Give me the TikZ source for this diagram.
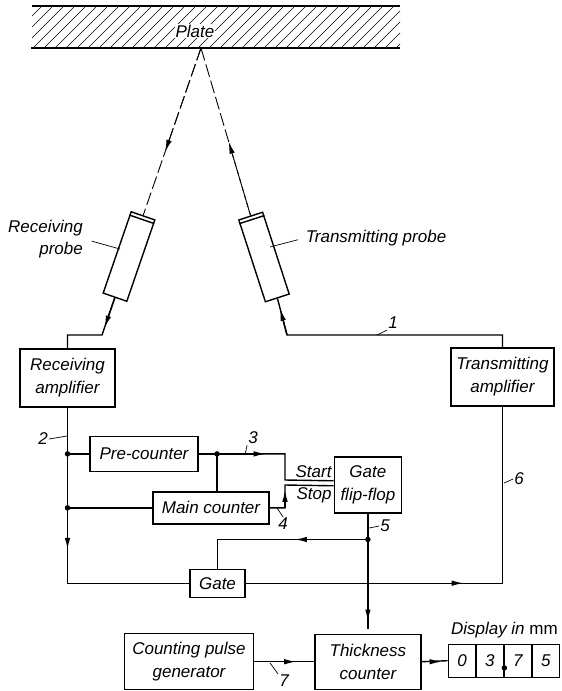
\documentclass[tikz,border=0pt]{standalone}
\usepackage{fontspec}
\setmainfont{Liberation Sans}
\usetikzlibrary{arrows.meta, positioning, calc}

\begin{document}
\begin{tikzpicture}[
    x=1pt, y=-1pt,
    box/.style={draw, line width=1.4pt, align=center, inner sep=1pt, font=\fontsize{17}{23}\selectfont\itshape},
    digit/.style={box, minimum width=27.5pt, minimum height=33pt},
    probe/.style={draw, line width=1.4pt, minimum width=25pt, minimum height=86pt},
    lbl/.style={inner sep=1pt, align=right, font=\fontsize{17}{22}\selectfont\itshape},
    wire/.style={line width=1.4pt},
    beam/.style={line width=0.9pt, dash pattern=on 13pt off 4pt},
    tick/.style={line width=0.7pt},
    hatch/.style={line width=0.5pt},
    arr/.style={-{Latex[length=12pt, width=5.5pt]}, line width=1.4pt},
    dot/.style={circle, fill, inner sep=0pt, minimum size=5.5pt}
]
    \useasboundingbox (0,0) rectangle (562,691);

    % Plate
    \begin{scope}
        \clip (32,7) rectangle (400,47);
        \foreach \hx in {-10,1,...,400}
            \draw[hatch] (\hx,47) -- ++(40,-40);
    \end{scope}
    \coordinate (plateTL) at (32,6);
    \coordinate (plateTR) at (400,6);
    \coordinate (plateBL) at (31,48);
    \coordinate (plateBR) at (400,48);
    \coordinate (apex) at (201,48);
    \draw[wire] (plateTL) -- (plateTR);
    \draw[wire] (plateBL) -- (plateBR);
    \node[lbl, fill=white] (plate) at (195,31) {Plate};

    % Probes
    \node[probe, rotate=-19] (rp) at (129,256.5) {};
    \node[probe, rotate=18] (tp) at (264,257) {};
    \draw[wire] ($(rp.north west)!0.05!(rp.south west)$) -- ($(rp.north east)!0.05!(rp.south east)$);
    \draw[wire] ($(tp.north west)!0.05!(tp.south west)$) -- ($(tp.north east)!0.05!(tp.south east)$);
    \node[lbl] (rplbl) at (45.5,239) {Receiving\\probe};
    \node[lbl] (tplbl) at (376,238) {Transmitting probe};
    \coordinate (rpleader) at (120,249);
    \coordinate (tpleader) at (270,247);
    \draw[tick, shorten <=8pt] (rplbl.east) -- (rpleader);
    \draw[tick, shorten <=7pt] (tplbl.west) -- (tpleader);

    % Blocks
    \node[box, minimum width=95pt, minimum height=58pt] (ramp) at (67.5,378) {Receiving\\amplifier};
    \node[box, minimum width=103pt, minimum height=58pt] (tamp) at (502.5,377) {Transmitting\\amplifier};
    \node[box, minimum width=108pt, minimum height=35pt, below=28pt of ramp, xshift=76.5pt] (precnt) {Pre-counter};
    \node[box, minimum width=116pt, minimum height=32pt, below=19pt of precnt, xshift=67pt] (maincnt) {Main counter};
    \node[box, minimum width=67pt, minimum height=56pt, right=64pt of maincnt, yshift=23pt] (flip) {Gate\\flip-flop};
    \node[box, minimum width=55pt, minimum height=28pt, below=44pt of maincnt, xshift=6.5pt] (gate) {Gate};
    \node[box, minimum width=106pt, minimum height=55pt, below=120pt of flip] (thick) {Thickness\\counter};
    \node[box, minimum width=129pt, minimum height=56pt, left=60pt of thick] (pulse) {Counting pulse\\generator};

    % Display
    \node[digit, right=26pt of thick, yshift=1pt] (d0) {0};
    \node[digit, right=-1pt of d0] (d1) {3};
    \node[digit, right=-1pt of d1] (d2) {7};
    \node[digit, right=-1pt of d2] (d3) {5};
    \node[lbl, above=4pt of d1.north east] (disp) {Display in {\upshape mm}};

    % Junctions
    \coordinate (rbend) at (102,335);
    \coordinate (tbend) at (287,335);
    \coordinate (j1) at (ramp.south |- precnt.west);
    \coordinate (j2) at (ramp.south |- maincnt.west);
    \coordinate (j3) at ([xshift=6pt]maincnt.north |- precnt.east);
    \coordinate (j5) at ($(flip.south)+(0,26)$);
    \coordinate (startin) at (285,480);
    \coordinate (stopin) at (285,485);
    \node[dot] (dot1) at (j1) {};
    \node[dot] (dot2) at (j2) {};
    \node[dot] (dot3) at (j3) {};
    \node[dot] (dot5) at (j5) {};
    \node[dot] (point) at ($(d1.south east)+(0,-10)$) {};

    % Beams
    \draw[beam] (apex) -- (rp.north);
    \draw[beam] (apex) -- (tp.north);
    \draw[arr, beam] (apex) -- ($(apex)!0.62!(rp.north)$);
    \draw[arr, beam] (tp.north) -- ($(tp.north)!0.44!(apex)$);

    % Connections
    \draw[wire] (rp.south) -- (rbend) -| (ramp.north);
    \draw[wire] (tp.south) -- (tbend) -| (tamp.north);
    \draw[arr] (rp.south) -- ($(rp.south)!0.8!(rbend)$);
    \draw[arr] (tbend) -- ($(tbend)!0.72!(tp.south)$);

    \draw[wire] (ramp.south) |- (gate.west);
    \draw[wire] (j1) -- (precnt.west);
    \draw[wire] (j2) -- (maincnt.west);
    \draw[arr] (j2) -- ($(j2)+(0,42)$);
    \draw[wire] (gate.east) -| (tamp.south);
    \draw[arr] (gate.east) -- ($(gate.east)+(218,0)$);

    \draw[wire] (precnt.east) -| (startin) -- ([yshift=4pt]flip.west);
    \draw[arr] (precnt.east) -- ($(precnt.east)+(67,0)$);
    \draw[wire] (j3) -- ([xshift=6pt]maincnt.north);
    \draw[wire] (maincnt.east) -| (stopin) -- ([yshift=-1pt]flip.west);
    \draw[arr] (maincnt.east -| stopin) -- ($(maincnt.east -| stopin)+(0,-18)$);

    \draw[wire, shorten >=5pt] (flip.south) -- (thick.north);
    \draw[arr] (j5) -- ($(j5)+(0,82)$);
    \draw[wire] (j5) -| (gate.north);
    \draw[arr] (j5) -- ($(j5)+(-73,0)$);

    \draw[wire] (pulse.east) -- (thick.west);
    \draw[arr] (pulse.east) -- ($(pulse.east)+(42,0)$);
    \draw[wire] (thick.east) -- (d0.west);
    \draw[arr] (thick.east) -- ($(thick.east)+(20,0)$);

    % Numbers
    \node[lbl] (n1) at (393,323) {1};
    \node[lbl] (n2) at (43,439) {2};
    \node[lbl] (n3) at (253,438) {3};
    \node[lbl] (n4) at (283,524) {4};
    \node[lbl] (n5) at (385,526) {5};
    \node[lbl] (n6) at (519,479) {6};
    \node[lbl] (n7) at (284,681) {7};
    \coordinate (t1) at (377,335);
    \coordinate (t2) at (67,436);
    \coordinate (t3) at (245,455);
    \coordinate (t4) at (277,508);
    \coordinate (t5) at (369,528);
    \coordinate (t6) at (504,483);
    \coordinate (t7) at (270,663);
    \draw[tick] (n1.south west) -- (t1);
    \draw[tick] (n2.east) -- (t2);
    \draw[tick] (n3.south west) -- (t3);
    \draw[tick] (n4.north) -- (t4);
    \draw[tick] (n5.west) -- (t5);
    \draw[tick] (n6.west) -- (t6);
    \draw[tick] (n7.north west) -- (t7);

    % Start and stop
    \node[lbl, left=1pt of flip, yshift=13pt] (start) {Start};
    \node[lbl, left=1pt of flip, yshift=-11pt] (stop) {Stop};
\end{tikzpicture}
\end{document}
